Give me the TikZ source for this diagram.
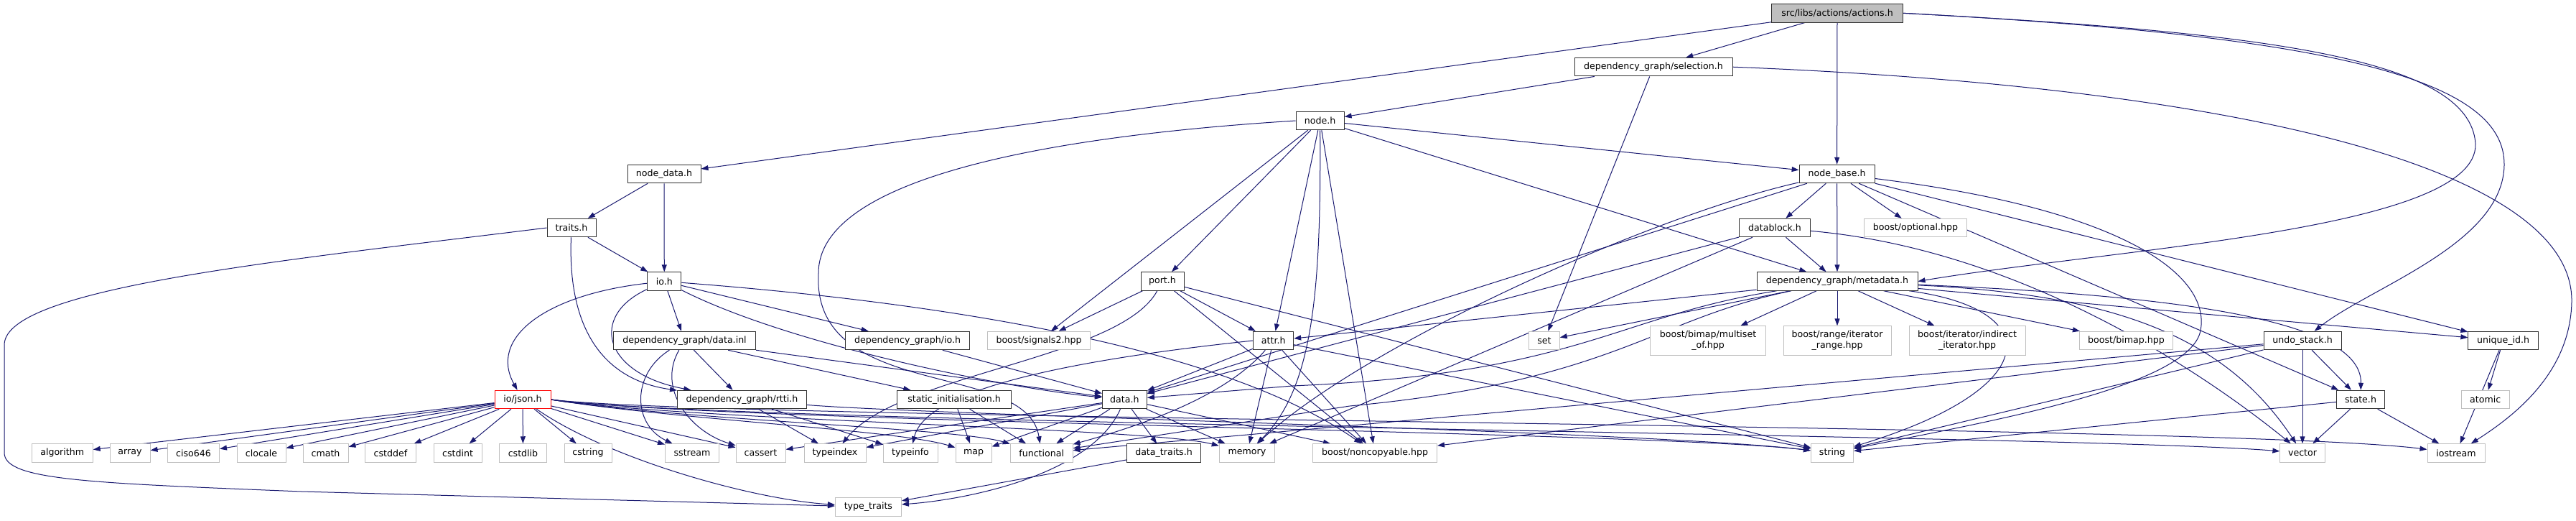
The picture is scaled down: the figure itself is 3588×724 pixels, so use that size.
\documentclass[tikz,border=0pt]{standalone}
\usepackage{fontspec}
\setmainfont{DejaVu Sans}
\usetikzlibrary{arrows.meta}
\pgfdeclarelayer{bg}
\pgfsetlayers{bg,main}
\definecolor{edgec}{HTML}{191970}
\definecolor{extc}{HTML}{BFBFBF}
\definecolor{docc}{HTML}{303030}
\definecolor{rootfill}{HTML}{BFBFBF}
\newcommand\dfont{\fontsize{12.6}{15}\selectfont}
\begin{document}
\begin{tikzpicture}[x=1pt,y=-1pt,
  box/.style={draw=docc, line width=1pt, fill=white, minimum height=25.5pt, inner sep=0pt, font=\dfont, text=black},
  ext/.style={box, draw=extc},
  two/.style={minimum height=40.5pt, align=center},
  edge/.style={draw=edgec, line width=1pt, -{Triangle[length=10pt,width=7pt]}}]
\useasboundingbox (0,0) rectangle (3588,724);
% rank 0-4
\node[box, fill=rootfill, minimum width=182.5pt] (actions) at (2559,18.3) {src/libs/actions/actions.h};
\node[box, minimum width=220pt] (selection) at (2303,93.2) {dependency\_graph/selection.h};
\node[box, minimum width=67pt] (node) at (1838.6,168) {node.h};
\node[box, minimum width=102pt] (nodedata) at (925,242) {node\_data.h};
\node[box, minimum width=105pt] (nodebase) at (2558.6,242) {node\_base.h};
\node[box, minimum width=68pt] (traits) at (796,317) {traits.h};
\node[box, minimum width=99pt] (datablock) at (2472,317) {datablock.h};
\node[ext, minimum width=143pt] (optional) at (2668,317) {boost/optional.hpp};
% rank 5
\node[box, minimum width=47pt] (io) at (925.3,391.5) {io.h};
\node[box, minimum width=60pt] (port) at (1619,391.5) {port.h};
\node[box, minimum width=224pt] (metadata) at (2559,391.5) {dependency\_graph/metadata.h};
% rank 6
\node[box, minimum width=198pt] (datainl) at (953.5,474) {dependency\_graph/data.inl};
\node[box, minimum width=173pt] (dgio) at (1264,474) {dependency\_graph/io.h};
\node[ext, minimum width=143.5pt] (signals) at (1447,474) {boost/signals2.hpp};
\node[box, minimum width=56pt] (attr) at (1773.7,474) {attr.h};
\node[ext, minimum width=42.5pt] (nset) at (2151,474) {set};
\node[ext, two, minimum width=161pt] (multiset) at (2379,474) {boost/bimap/multiset\\\_of.hpp};
\node[ext, two, minimum width=150pt] (itrange) at (2559,474) {boost/range/iterator\\\_range.hpp};
\node[ext, two, minimum width=162pt] (indirect) at (2740,474) {boost/iterator/indirect\\\_iterator.hpp};
\node[ext, minimum width=130pt] (bimap) at (2961.5,474) {boost/bimap.hpp};
\node[box, minimum width=108pt] (undo) at (3207,474) {undo\_stack.h};
\node[box, minimum width=97.4pt] (uniqueid) at (3486.6,474) {unique\_id.h};
% rank 7
\node[box, draw=red, minimum width=78pt] (json) at (728,556) {io/json.h};
\node[box, minimum width=180pt] (rtti) at (1033.5,556) {dependency\_graph/rtti.h};
\node[box, minimum width=158.5pt] (staticinit) at (1329,556) {static\_initialisation.h};
\node[box, minimum width=62pt] (data) at (1566.4,556) {data.h};
\node[box, minimum width=67.4pt] (state) at (3288,556) {state.h};
\node[ext, minimum width=67pt] (atomic) at (3461.7,556) {atomic};
% rank 8
\node[ext, minimum width=85pt] (algorithm) at (86.7,630.5) {algorithm};
\node[ext, minimum width=56pt] (array) at (181,630.5) {array};
\node[ext, minimum width=72pt] (ciso) at (269.5,630.5) {ciso646};
\node[ext, minimum width=68pt] (clocale) at (364,630.5) {clocale};
\node[ext, minimum width=63pt] (cmath) at (453.5,630.5) {cmath};
\node[ext, minimum width=71pt] (cstddef) at (544,630.5) {cstddef};
\node[ext, minimum width=67pt] (cstdint) at (637.5,630.5) {cstdint};
\node[ext, minimum width=65.5pt] (cstdlib) at (728.5,630.5) {cstdlib};
\node[ext, minimum width=66pt] (cstring) at (819,630.5) {cstring};
\node[ext, minimum width=75pt] (sstream) at (964,630.5) {sstream};
\node[ext, minimum width=69pt] (cassert) at (1059.5,630.5) {cassert};
\node[ext, minimum width=86pt] (typeindex) at (1163,630.5) {typeindex};
\node[ext, minimum width=76pt] (typeinfo) at (1268,630.5) {typeinfo};
\node[ext, minimum width=50pt] (nmap) at (1356,630.5) {map};
\node[ext, minimum width=86.7pt] (functional) at (1450.7,630.5) {functional};
\node[box, minimum width=103pt] (datatraits) at (1621,630.5) {data\_traits.h};
\node[ext, minimum width=77.5pt] (memory) at (1737,630.5) {memory};
\node[ext, minimum width=173pt] (noncopyable) at (1915,630.5) {boost/noncopyable.hpp};
\node[ext, minimum width=59pt] (string) at (2552,630.5) {string};
\node[ext, minimum width=62.3pt] (vector) at (3207,630.5) {vector};
\node[ext, minimum width=80pt] (iostream) at (3421,630.5) {iostream};
% rank 9
\node[ext, minimum width=92pt] (typetraits) at (1209.4,705.3) {type\_traits};

\begin{pgfonlayer}{bg}
\fill[white] (0,0) rectangle (3588,724);
% actions.h
\draw[edge] (actions) -- (nodedata);
\draw[edge] (actions) -- (selection);
\draw[edge] (actions) -- (nodebase);
\draw[edge] (actions.east) .. controls (3150,45) and (3440,80) .. (3448,200) .. controls (3452,320) and (2950,345) .. (metadata.east);
\draw[edge] (actions.east) .. controls (3250,50) and (3490,110) .. (3488,230) .. controls (3486,340) and (3300,400) .. (undo);
% selection.h
\draw[edge] (selection) -- (node);
\draw[edge] (selection) -- (nset);
\draw[edge] (selection.east) .. controls (3100,120) and (3585,230) .. (3582,420) .. controls (3580,520) and (3500,580) .. (iostream);
% node.h
\draw[edge] (node) -- (nodebase);
\draw[edge] (node) -- (metadata);
\draw[edge] (node) -- (port);
\draw[edge] (node) -- (attr);
\draw[edge] (node) -- (signals);
\draw[edge] (node) .. controls (1840,400) and (1830,540) .. (memory);
\draw[edge] (node) -- (noncopyable);
\draw[edge] (node.west) .. controls (1450,190) and (1140,250) .. (1140,380) .. controls (1130,560) and (1430,500) .. (functional);
% node_data.h / traits.h
\draw[edge] (nodedata) -- (traits);
\draw[edge] (nodedata) -- (io);
\draw[edge] (traits) -- (io);
\draw[edge] (traits) .. controls (790,470) and (850,530) .. (rtti);
\draw[edge] (traits.west) .. controls (400,362) and (6,400) .. (6,480) -- (6,630) .. controls (6,668) and (120,672) .. (420,684) -- (typetraits);
% node_base.h
\draw[edge] (nodebase) -- (datablock);
\draw[edge] (nodebase) -- (optional);
\draw[edge] (nodebase) -- (metadata);
\draw[edge] (nodebase) -- (data);
\draw[edge] (nodebase) .. controls (2300,300) and (1900,480) .. (memory);
\draw[edge] (nodebase) .. controls (2950,290) and (3080,380) .. (3065,460) .. controls (3050,540) and (2750,590) .. (string);
\draw[edge] (nodebase) -- (state);
\draw[edge] (nodebase) -- (uniqueid);
% datablock.h
\draw[edge] (datablock) -- (metadata);
\draw[edge] (datablock) -- (data);
\draw[edge] (datablock) -- (memory);
\draw[edge] (datablock) .. controls (2850,350) and (3120,560) .. (vector);
% metadata.h
\draw[edge] (metadata) -- (nset);
\draw[edge] (metadata) -- (multiset);
\draw[edge] (metadata) -- (itrange);
\draw[edge] (metadata) -- (indirect);
\draw[edge] (metadata) -- (bimap);
\draw[edge] (metadata) -- (attr);
\draw[edge] (metadata) .. controls (2250,440) and (2200,520) .. (1800,537) -- (data);
\draw[edge] (metadata) .. controls (2300,445) and (2250,530) .. (1880,565) -- (functional);
\draw[edge] (metadata) .. controls (2850,430) and (2850,540) .. (string);
\draw[edge] (metadata) .. controls (2950,410) and (3100,470) .. (vector);
\draw[edge] (metadata) -- (uniqueid);
\draw[edge] (metadata) .. controls (3000,410) and (3290,440) .. (state);
% port.h
\draw[edge] (port) -- (signals);
\draw[edge] (port) -- (attr);
\draw[edge] (port) .. controls (1560,500) and (1250,520) .. (typeindex);
\draw[edge] (port) -- (noncopyable);
\draw[edge] (port) -- (string);
% attr.h
\draw[edge] (attr) -- (data);
\draw[edge] (attr) -- (memory);
\draw[edge] (attr.west) .. controls (1500,500) and (1290,540) .. (typeinfo);
\draw[edge] (attr) .. controls (1700,560) and (1560,600) .. (functional);
\draw[edge] (attr) -- (noncopyable);
\draw[edge] (attr) -- (string);
% data.h
\draw[edge] (data) -- (cassert);
\draw[edge] (data) -- (typeindex);
\draw[edge] (data) -- (nmap);
\draw[edge] (data) -- (functional);
\draw[edge] (data) .. controls (1520,660) and (1350,695) .. (typetraits);
\draw[edge] (data) -- (datatraits);
\draw[edge] (data) -- (memory);
\draw[edge] (data) -- (noncopyable);
\draw[edge] (datatraits) -- (typetraits);
% data.inl, io.h (dg), rtti, static_init
\draw[edge] (datainl) -- (rtti);
\draw[edge] (datainl) .. controls (880,520) and (880,590) .. (sstream);
\draw[edge] (datainl) .. controls (915,540) and (960,600) .. (cassert);
\draw[edge] (datainl) -- (staticinit);
\draw[edge] (datainl) -- (data);
\draw[edge] (dgio) -- (data);
\draw[edge] (rtti) -- (typeindex);
\draw[edge] (rtti) -- (typeinfo);
\draw[edge] (rtti) .. controls (1300,578) and (2300,600) .. (string);
\draw[edge] (staticinit) -- (nmap);
\draw[edge] (staticinit) -- (functional);
% io.h
\draw[edge] (io) .. controls (760,410) and (680,470) .. (json);
\draw[edge] (io) -- (datainl);
\draw[edge] (io) -- (dgio);
\draw[edge] (io) .. controls (820,440) and (840,520) .. (rtti);
\draw[edge] (io) .. controls (1300,420) and (1700,480) .. (noncopyable);
\draw[edge] (io) .. controls (1100,480) and (1400,540) .. (data);
% io/json.h
\foreach \t in {algorithm,array,ciso,clocale,cmath,cstddef,cstdint,cstdlib,cstring,sstream,cassert}
  \draw[edge] (json) -- (\t);
\draw[edge] (json) .. controls (850,640) and (1050,695) .. (typetraits);
\draw[edge] (json.east) .. controls (950,585) and (1250,598) .. (nmap);
\draw[edge] (json.east) .. controls (950,585) and (1330,595) .. (functional);
\draw[edge] (json.east) .. controls (950,585) and (1600,595) .. (memory);
\draw[edge] (json.east) .. controls (1000,588) and (2300,600) .. (string);
\draw[edge] (json.east) .. controls (1000,590) and (2900,605) .. (vector);
\draw[edge] (json.east) .. controls (1000,585) and (3100,590) .. (iostream);
% undo_stack.h, state.h, unique_id.h
\draw[edge] (undo) -- (state);
\draw[edge] (undo) -- (vector);
\draw[edge] (undo) -- (string);
\draw[edge] (undo) -- (noncopyable);
\draw[edge] (undo) -- (functional);
\draw[edge] (state) -- (vector);
\draw[edge] (state) -- (iostream);
\draw[edge] (state) -- (string);
\draw[edge] (uniqueid) -- (atomic);
\draw[edge] (uniqueid) -- (iostream);
\end{pgfonlayer}
\end{tikzpicture}
\end{document}
